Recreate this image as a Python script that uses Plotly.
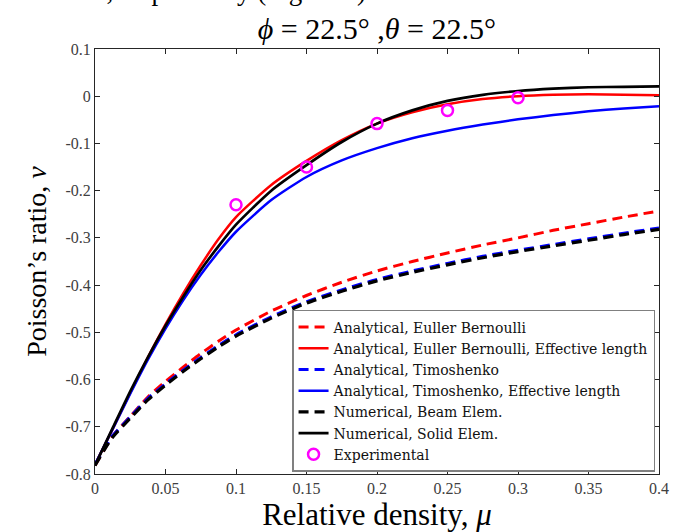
import plotly.graph_objects as go

mu = [0, 0.0125, 0.025, 0.0375, 0.05, 0.0625, 0.075, 0.0875, 0.1, 0.125, 0.15,
      0.175, 0.2, 0.225, 0.25, 0.275, 0.3, 0.325, 0.35, 0.375, 0.4]

eb_dashed = [-0.782, -0.720, -0.678, -0.637, -0.604, -0.574, -0.545, -0.519, -0.495, -0.455, -0.422,
             -0.394, -0.370, -0.350, -0.332, -0.315, -0.300, -0.284, -0.270, -0.256, -0.243]
eb_eff = [-0.780, -0.705, -0.628, -0.553, -0.483, -0.418, -0.358, -0.303, -0.256, -0.188, -0.137,
          -0.093, -0.058, -0.034, -0.017, -0.006, 0.000, 0.003, 0.004, 0.003, 0.002]
timo_dashed = [-0.780, -0.719, -0.679, -0.640, -0.609, -0.580, -0.553, -0.528, -0.505, -0.467, -0.435,
               -0.410, -0.388, -0.370, -0.354, -0.339, -0.326, -0.314, -0.302, -0.290, -0.279]
timo_eff = [-0.780, -0.705, -0.630, -0.558, -0.492, -0.432, -0.378, -0.330, -0.287, -0.220, -0.171,
            -0.136, -0.110, -0.089, -0.073, -0.060, -0.049, -0.040, -0.032, -0.026, -0.021]
num_beam = [-0.782, -0.722, -0.682, -0.643, -0.612, -0.583, -0.556, -0.531, -0.508, -0.470, -0.438,
            -0.413, -0.391, -0.373, -0.357, -0.342, -0.329, -0.317, -0.305, -0.293, -0.282]
num_solid = [-0.782, -0.703, -0.625, -0.553, -0.486, -0.425, -0.368, -0.318, -0.272, -0.200, -0.146,
             -0.097, -0.058, -0.030, -0.010, 0.003, 0.011, 0.016, 0.019, 0.020, 0.021]

exp_mu = [0.1, 0.15, 0.2, 0.25, 0.3]
exp_nu = [-0.230, -0.150, -0.058, -0.030, -0.003]

x_ticks = [0, 0.05, 0.1, 0.15, 0.2, 0.25, 0.3, 0.35, 0.4]
x_ticktext = ["0", "0.05", "0.1", "0.15", "0.2", "0.25", "0.3", "0.35", "0.4"]
y_ticks = [0.1, 0, -0.1, -0.2, -0.3, -0.4, -0.5, -0.6, -0.7, -0.8]
y_ticktext = ["0.1", "0", "-0.1", "-0.2", "-0.3", "-0.4", "-0.5", "-0.6", "-0.7", "-0.8"]

names = ["Analytical, Euller Bernoulli", "Analytical, Euller Bernoulli, Effective length",
         "Analytical, Timoshenko", "Analytical, Timoshenko, Effective length",
         "Numerical, Beam Elem.", "Numerical, Solid Elem.", "Experimental"]

SERIF = "Liberation Serif"
LEG_FONT = "DejaVu Serif"
DASH = "10px,6px"

fig = go.Figure()
series = [
    (eb_dashed, "#ff0000", DASH, 3),
    (eb_eff, "#ff0000", "solid", 2.5),
    (timo_dashed, "#0000ff", DASH, 3),
    (timo_eff, "#0000ff", "solid", 2.5),
    (num_beam, "#000000", DASH, 3.2),
    (num_solid, "#000000", "solid", 2.7),
]
for (vals, col, dash, w), nm in zip(series, names[:6]):
    fig.add_trace(go.Scatter(x=mu, y=vals, mode="lines", name=nm,
                             line=dict(color=col, dash=dash, width=w, shape="spline", smoothing=0.6)))

fig.add_trace(go.Scatter(x=exp_mu, y=exp_nu, mode="markers", name=names[6],
                         marker=dict(symbol="circle-open", size=11, color="#ff00ff",
                                     line=dict(width=2.5, color="#ff00ff"))))

axis_common = dict(showline=True, linecolor="#262626", linewidth=1, mirror="ticks",
                   ticks="inside", ticklen=5, tickcolor="#262626", showgrid=False, zeroline=False,
                   automargin=False,
                   tickfont=dict(family=SERIF, size=16, color="#404040"))

fig.update_layout(
    width=673, height=532,
    margin=dict(l=95, r=14, t=49, b=58, autoexpand=False),
    paper_bgcolor="white", plot_bgcolor="white",
    title=dict(text="<i>ϕ</i> = 22.5° ,<i>θ</i> = 22.5°", x=0.560, xanchor="center",
               y=1 - 28 / 532, yanchor="middle", yref="container",
               font=dict(family=SERIF, size=30, color="black")),
    xaxis=dict(range=[0, 0.4], tickvals=x_ticks, ticktext=x_ticktext,
               title=dict(text="Relative density, <i>μ</i>", standoff=3,
                          font=dict(family=SERIF, size=31, color="black")),
               **axis_common),
    yaxis=dict(range=[-0.8, 0.1], tickvals=y_ticks, ticktext=y_ticktext,
               title=dict(text="Poisson’s ratio, <i>ν</i>", standoff=10,
                          font=dict(family=SERIF, size=28, color="black")),
               **axis_common),
    legend=dict(x=0.993, y=0.386, xanchor="right", yanchor="top",
                bgcolor="white", bordercolor="#808080", borderwidth=1.5,
                font=dict(family=LEG_FONT, size=14, color="#111111"),
                entrywidth=345, entrywidthmode="pixels",
                tracegroupgap=0),
    showlegend=True,
)

fig.add_annotation(text="series, respectively (Figure 5).", xref="paper", yref="paper",
                   x=(375 - 95) / 564, y=(474 - 8) / 425, xanchor="right", yanchor="bottom",
                   showarrow=False, font=dict(family=SERIF, size=27, color="black"))

fig.write_html("out.html")
